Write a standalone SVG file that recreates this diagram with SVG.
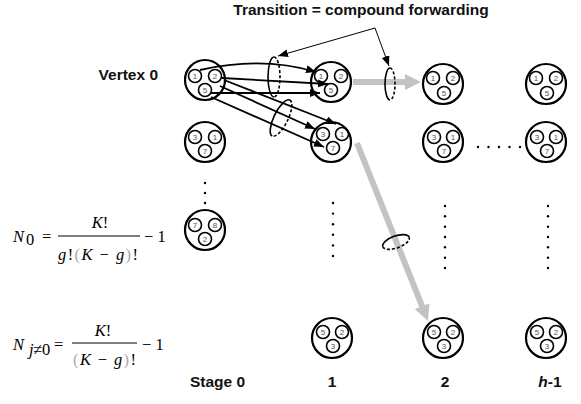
<svg xmlns="http://www.w3.org/2000/svg" width="581" height="404" viewBox="0 0 581 404">
<defs>
<style>
.node{fill:none;stroke:#000;stroke-width:2.2}
.sub{fill:none;stroke:#000;stroke-width:1.6}
.d{font:8px 'Liberation Sans',Arial,sans-serif;fill:#555;text-anchor:middle}
.lbl{font-family:'Liberation Sans',Arial,sans-serif;font-weight:bold;font-size:15.5px;fill:#111}
.m{font-family:'Liberation Serif','Times New Roman',serif;font-size:16.5px;fill:#000}
.i{font-style:italic}
.ar{stroke:#000;stroke-width:1.8;fill:none;marker-end:url(#ah)}
.thin{stroke:#000;stroke-width:1;fill:none;marker-end:url(#ah2)}
.gray{stroke:#c3c3c3;stroke-width:6;fill:none;marker-end:url(#gh)}
.ell{fill:none;stroke:#000;stroke-width:1.6}
.dash{stroke-dasharray:3 2}
.dot{fill:#000}
.par{fill:#aaa}
</style>
<marker id="ah" markerUnits="userSpaceOnUse" markerWidth="11" markerHeight="9" refX="10" refY="4" orient="auto"><path d="M0,0 L10,4 L0,8 z" fill="#000"/></marker>
<marker id="ah2" markerUnits="userSpaceOnUse" markerWidth="11" markerHeight="9" refX="10" refY="4" orient="auto"><path d="M0,0 L10,4 L0,8 z" fill="#000"/></marker>
<marker id="gh" markerUnits="userSpaceOnUse" markerWidth="18" markerHeight="18" refX="2" refY="8" orient="auto"><path d="M0,0 L16,8 L0,16 z" fill="#c3c3c3"/></marker>
</defs>

<text class="lbl" x="361" y="15" text-anchor="middle">Transition = compound forwarding</text>
<text class="lbl" x="158" y="80" text-anchor="end">Vertex 0</text>

<g id="s0-v0" transform="translate(205,80)"><circle class="node" r="20"/><circle class="sub" cx="-10" cy="-4" r="6.5"/><circle class="sub" cx="10" cy="-4" r="6.5"/><circle class="sub" cx="0" cy="10" r="6.5"/><text class="d" x="-10" y="-1">1</text><text class="d" x="10" y="-1">2</text><text class="d" x="0" y="13">5</text></g>
<g id="s0-v1" transform="translate(205,142)"><circle class="node" r="20"/><circle class="sub" cx="-10" cy="-5" r="6.5"/><circle class="sub" cx="10" cy="-5" r="6.5"/><circle class="sub" cx="0" cy="9" r="6.5"/><text class="d" x="-10" y="-2">3</text><text class="d" x="10" y="-2">1</text><text class="d" x="0" y="12">7</text></g>
<g id="s0-v2" transform="translate(205,230)"><circle class="node" r="20"/><circle class="sub" cx="-10" cy="-5" r="6.5"/><circle class="sub" cx="10" cy="-5" r="6.5"/><circle class="sub" cx="0" cy="9" r="6.5"/><text class="d" x="-10" y="-2">7</text><text class="d" x="10" y="-2">8</text><text class="d" x="0" y="12">2</text></g>
<g id="s1-v0" transform="translate(331,82)"><circle class="node" r="20"/><circle class="sub" cx="-10" cy="-6" r="6.5"/><circle class="sub" cx="10" cy="-6" r="6.5"/><circle class="sub" cx="0" cy="8" r="6.5"/><text class="d" x="-10" y="-3">1</text><text class="d" x="10" y="-3">2</text><text class="d" x="0" y="11">5</text></g>
<g id="s1-v1" transform="translate(331,142)"><circle class="node" r="20"/><circle class="sub" cx="-8" cy="-8" r="6.5"/><circle class="sub" cx="11" cy="-8" r="6.5"/><circle class="sub" cx="2" cy="6" r="6.5"/><text class="d" x="-8" y="-5">3</text><text class="d" x="11" y="-5">1</text><text class="d" x="2" y="9">7</text></g>
<g id="s1-vb" transform="translate(332,338)"><circle class="node" r="20"/><circle class="sub" cx="-9" cy="-6" r="6.5"/><circle class="sub" cx="10" cy="-6" r="6.5"/><circle class="sub" cx="1" cy="8" r="6.5"/><text class="d" x="-9" y="-3">5</text><text class="d" x="10" y="-3">2</text><text class="d" x="1" y="11">3</text></g>
<g id="s2-v0" transform="translate(443,84)"><circle class="node" r="20"/><circle class="sub" cx="-10" cy="-6" r="6.5"/><circle class="sub" cx="10" cy="-6" r="6.5"/><circle class="sub" cx="1" cy="9" r="6.5"/><text class="d" x="-10" y="-3">1</text><text class="d" x="10" y="-3">2</text><text class="d" x="1" y="12">5</text></g>
<g id="s2-v1" transform="translate(443,142)"><circle class="node" r="20"/><circle class="sub" cx="-9" cy="-5" r="6.5"/><circle class="sub" cx="10" cy="-5" r="6.5"/><circle class="sub" cx="1" cy="9" r="6.5"/><text class="d" x="-9" y="-2">3</text><text class="d" x="10" y="-2">1</text><text class="d" x="1" y="12">7</text></g>
<g id="s2-vb" transform="translate(443,338)"><circle class="node" r="20"/><circle class="sub" cx="-9" cy="-6" r="6.5"/><circle class="sub" cx="10" cy="-6" r="6.5"/><circle class="sub" cx="1" cy="8" r="6.5"/><text class="d" x="-9" y="-3">5</text><text class="d" x="10" y="-3">2</text><text class="d" x="1" y="11">3</text></g>
<g id="sh-v0" transform="translate(546,84)"><circle class="node" r="20"/><circle class="sub" cx="-10" cy="-6" r="6.5"/><circle class="sub" cx="10" cy="-6" r="6.5"/><circle class="sub" cx="1" cy="9" r="6.5"/><text class="d" x="-10" y="-3">1</text><text class="d" x="10" y="-3">2</text><text class="d" x="1" y="12">5</text></g>
<g id="sh-v1" transform="translate(546,142)"><circle class="node" r="20"/><circle class="sub" cx="-9" cy="-5" r="6.5"/><circle class="sub" cx="10" cy="-5" r="6.5"/><circle class="sub" cx="1" cy="9" r="6.5"/><text class="d" x="-9" y="-2">3</text><text class="d" x="10" y="-2">1</text><text class="d" x="1" y="12">7</text></g>
<g id="sh-vb" transform="translate(546,338)"><circle class="node" r="20"/><circle class="sub" cx="-9" cy="-6" r="6.5"/><circle class="sub" cx="10" cy="-6" r="6.5"/><circle class="sub" cx="1" cy="8" r="6.5"/><text class="d" x="-9" y="-3">5</text><text class="d" x="10" y="-3">2</text><text class="d" x="1" y="11">3</text></g>

<g id="connectors">
<path class="gray" d="M353,82 L407,82"/>
<path class="gray" d="M357,143 L422.8,308"/>
<path class="ar" d="M200,70 Q262,56 316,72"/>
<path class="ar" d="M222,78 L328,84"/>
<path class="ar" d="M210,93 L320,93"/>
<path class="ar" d="M224,80 L336,124"/>
<path class="ar" d="M220,86 L315,129"/>
<path class="ar" d="M211,97 L324,147"/>
<path class="thin" d="M375,28 L278,56"/>
<path class="thin" d="M375,28 L389,66"/>
<g transform="translate(274,77)"><path class="ell" d="M0,-20 A6,20 0 0 0 0,20"/><path class="ell dash" d="M0,-20 A6,20 0 0 1 0,20"/></g>
<g transform="translate(281,118) rotate(26)"><path class="ell" d="M0,-20 A7,20 0 0 0 0,20"/><path class="ell dash" d="M0,-20 A7,20 0 0 1 0,20"/></g>
<g transform="translate(390,84)"><path class="ell" d="M0,-16 A5,16 0 0 0 0,16"/><path class="ell dash" d="M0,-16 A5,16 0 0 1 0,16"/></g>
<g transform="translate(396,242) rotate(-20)"><path class="ell" d="M-14,0 A14,6 0 0 1 14,0"/><path class="ell dash" d="M-14,0 A14,6 0 0 0 14,0"/></g>
</g>

<g id="dots">
<circle class="dot" cx="205" cy="183" r="1.2"/><circle class="dot" cx="205" cy="193" r="1.2"/><circle class="dot" cx="205" cy="203" r="1.2"/>
<circle class="dot" cx="478" cy="147" r="1.2"/><circle class="dot" cx="488.5" cy="147" r="1.2"/><circle class="dot" cx="499" cy="147" r="1.2"/><circle class="dot" cx="509.5" cy="147" r="1.2"/><circle class="dot" cx="520" cy="147" r="1.2"/>
<circle class="dot" cx="333" cy="203" r="1.2"/><circle class="dot" cx="333" cy="213.6" r="1.2"/><circle class="dot" cx="333" cy="224.2" r="1.2"/><circle class="dot" cx="333" cy="234.8" r="1.2"/><circle class="dot" cx="333" cy="245.4" r="1.2"/><circle class="dot" cx="333" cy="256" r="1.2"/>
<circle class="dot" cx="445" cy="206" r="1.2"/><circle class="dot" cx="445" cy="216.3" r="1.2"/><circle class="dot" cx="445" cy="226.7" r="1.2"/><circle class="dot" cx="445" cy="237" r="1.2"/><circle class="dot" cx="445" cy="247.3" r="1.2"/><circle class="dot" cx="445" cy="257.7" r="1.2"/><circle class="dot" cx="445" cy="268" r="1.2"/>
<circle class="dot" cx="548" cy="206" r="1.2"/><circle class="dot" cx="548" cy="216.3" r="1.2"/><circle class="dot" cx="548" cy="226.7" r="1.2"/><circle class="dot" cx="548" cy="237" r="1.2"/><circle class="dot" cx="548" cy="247.3" r="1.2"/><circle class="dot" cx="548" cy="257.7" r="1.2"/><circle class="dot" cx="548" cy="268" r="1.2"/>
</g>

<g id="formula0">
<text class="m i" x="13" y="242">N</text><text class="m" x="26" y="245" font-size="10">0</text>
<text class="m" x="42" y="242">=</text>
<line x1="58" y1="236" x2="140" y2="236" stroke="#000" stroke-width="1"/>
<text class="m" x="100" y="228" text-anchor="middle"><tspan class="i">K</tspan>!</text>
<text class="m" x="58" y="260" textLength="80" lengthAdjust="spacing"><tspan class="i">g</tspan>!<tspan class="par">(</tspan><tspan class="i">K</tspan> − <tspan class="i">g</tspan><tspan class="par">)</tspan>!</text>
<text class="m" x="144" y="242">− 1</text>
</g>
<g id="formula1">
<text class="m i" x="13" y="350">N</text><text class="m i" x="29" y="355" font-size="9">j</text><text class="m" x="33" y="355" font-size="9">≠0</text>
<text class="m" x="54" y="350">=</text>
<line x1="72" y1="343" x2="137" y2="343" stroke="#000" stroke-width="1"/>
<text class="m" x="103" y="336" text-anchor="middle"><tspan class="i">K</tspan>!</text>
<text class="m" x="73" y="365" textLength="63" lengthAdjust="spacing"><tspan class="par">(</tspan><tspan class="i">K</tspan> − <tspan class="i">g</tspan><tspan class="par">)</tspan>!</text>
<text class="m" x="142" y="350">− 1</text>
</g>

<text class="lbl" x="190" y="387">Stage 0</text>
<text class="lbl" x="332" y="387" text-anchor="middle">1</text>
<text class="lbl" x="445" y="387" text-anchor="middle">2</text>
<text class="lbl" x="550" y="387" text-anchor="middle"><tspan font-style="italic">h</tspan>-1</text>
</svg>
